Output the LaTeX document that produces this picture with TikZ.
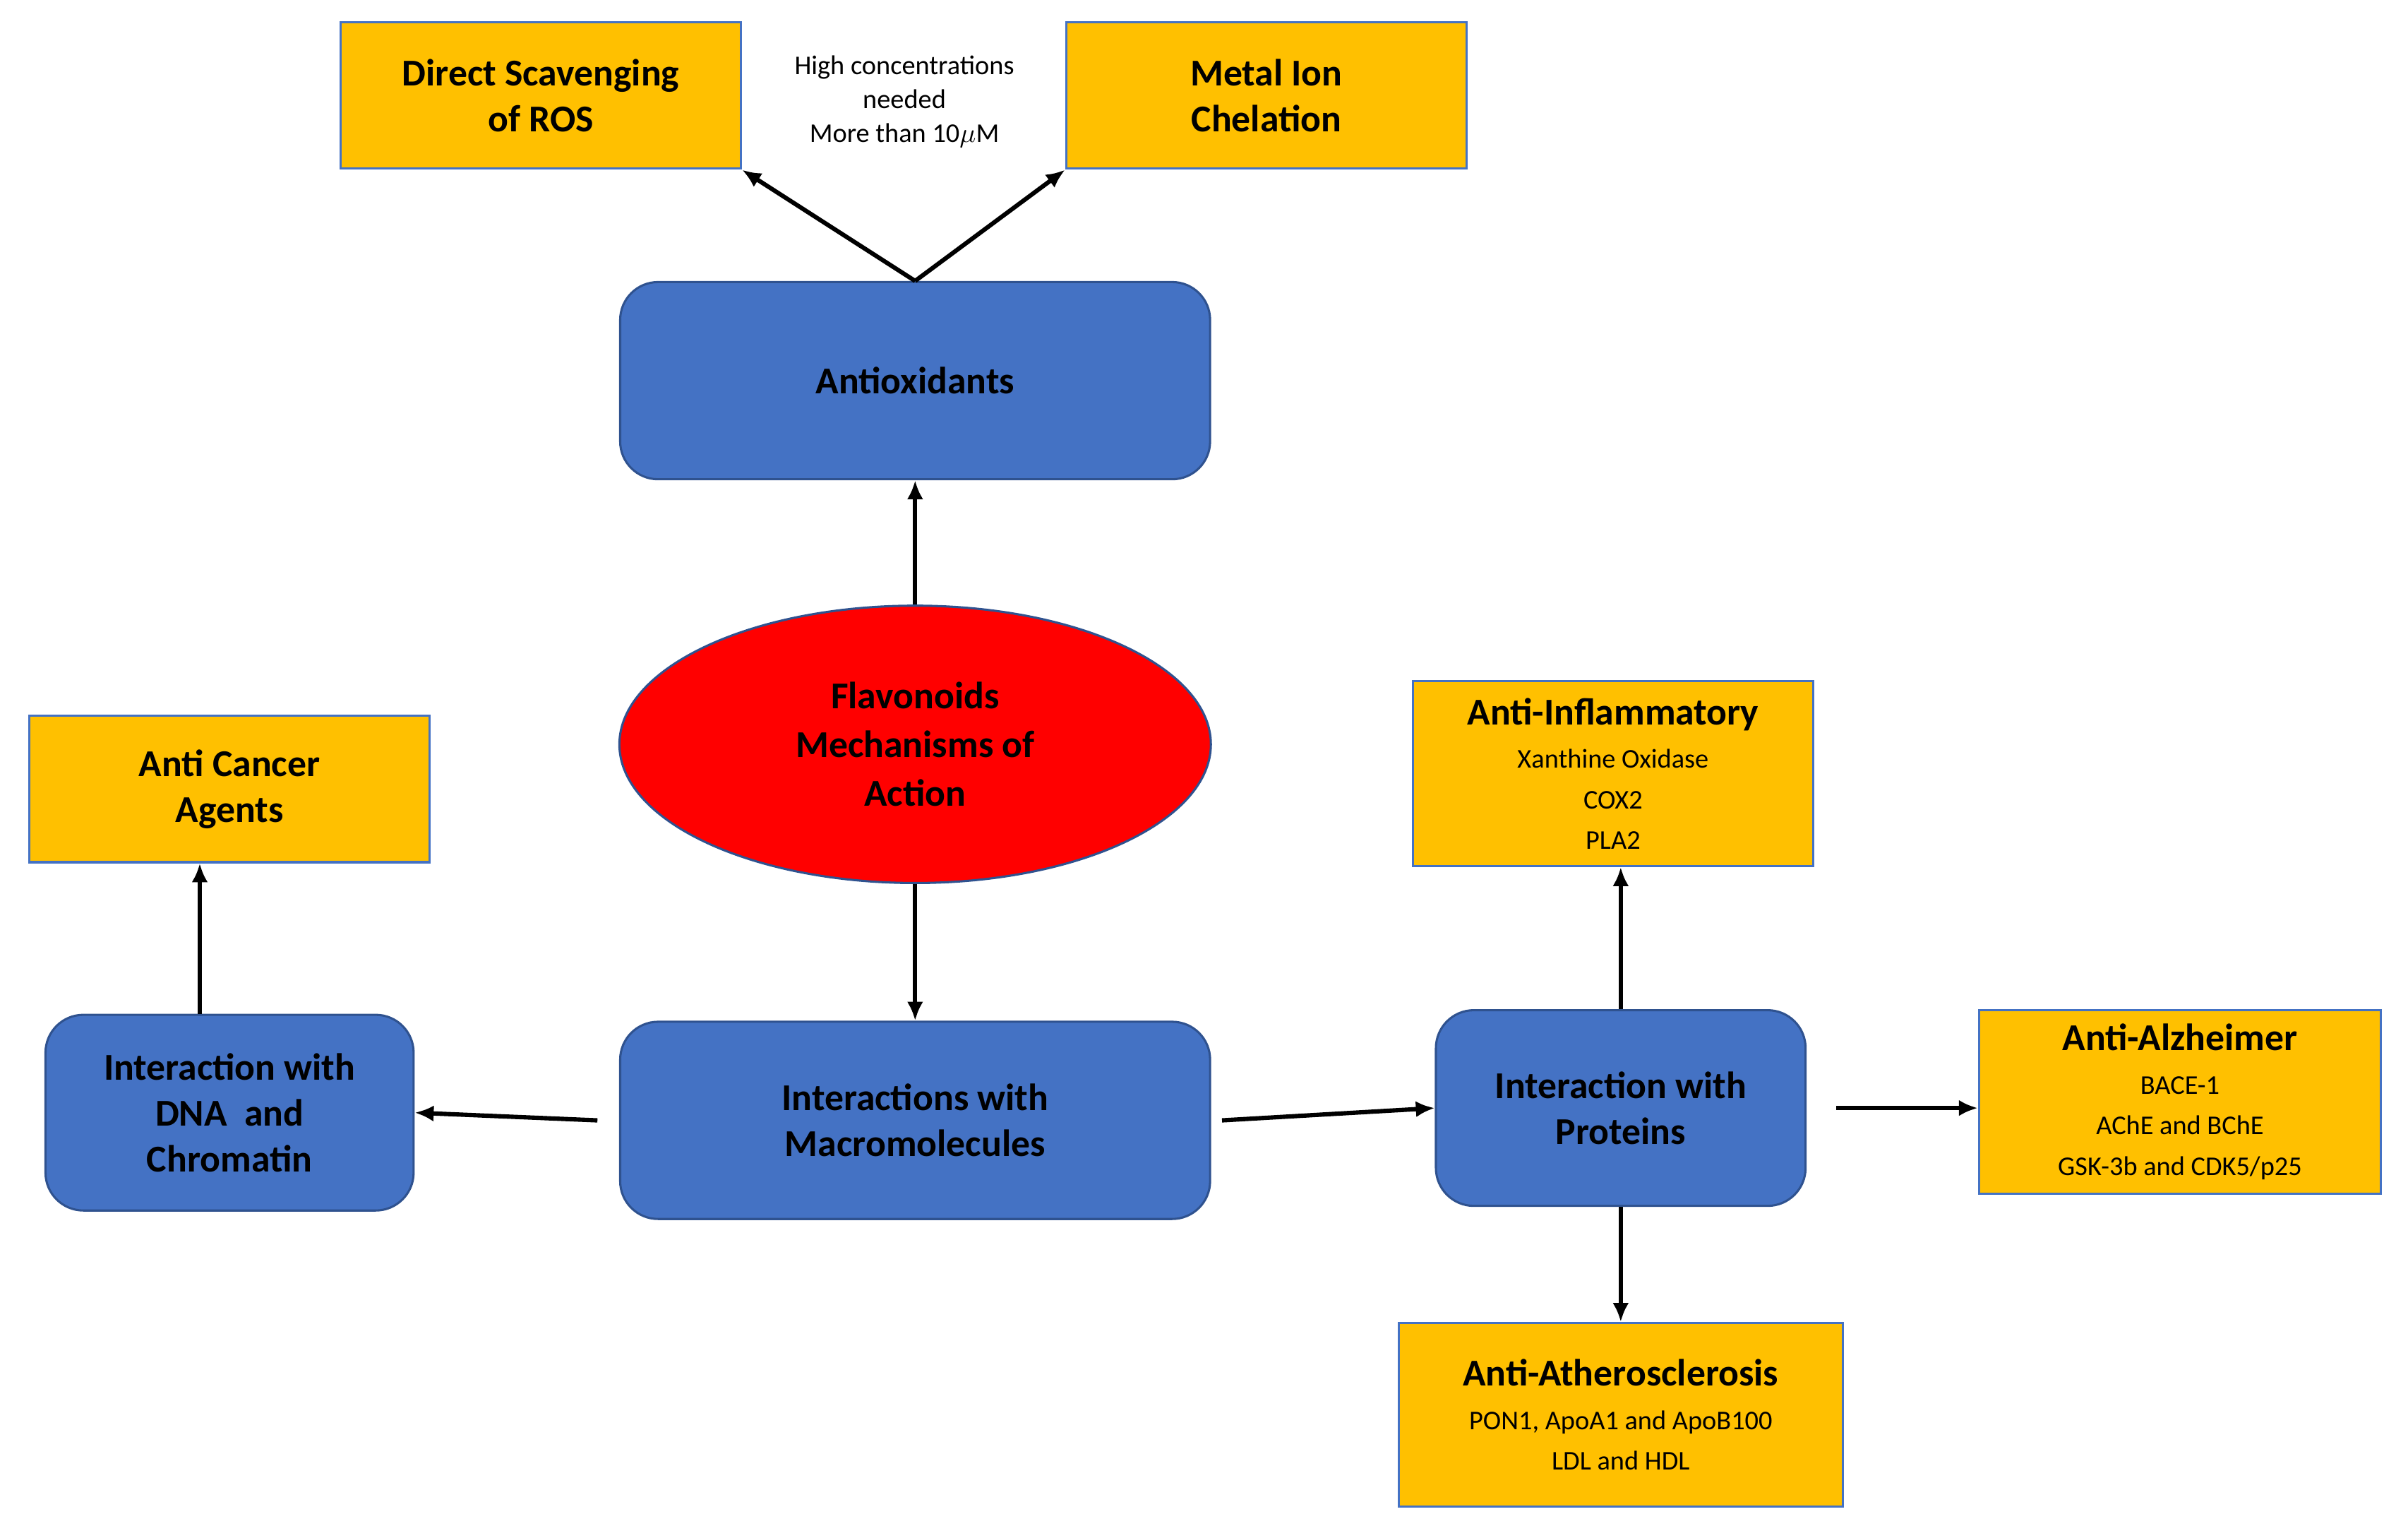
\documentclass[tikz,border=0pt]{standalone}
\usepackage{fontspec}
\setmainfont{Carlito}
\usetikzlibrary{arrows.meta,shapes.geometric}
\definecolor{boxblue}{HTML}{4472C4}
\definecolor{edgeblue}{HTML}{2F528F}
\definecolor{boxorange}{HTML}{FFC000}
\newcommand\subtxt[1]{{\fontsize{10}{12.5}\selectfont\mdseries #1}}
\tikzset{
  mech/.style={rectangle, rounded corners=14pt, fill=boxblue, draw=edgeblue, line width=0.8pt,
    align=center, font=\fontsize{14}{17}\selectfont\bfseries, inner sep=2pt},
  effect/.style={rectangle, fill=boxorange, draw=boxblue, line width=0.8pt,
    align=center, font=\fontsize{14}{17}\selectfont\bfseries, inner sep=2pt},
  flow/.style={line width=1.6pt, -{Latex[length=7pt,width=6pt]}}
}
\begin{document}
\begin{tikzpicture}[x=0.02cm, y=-0.02cm]
  \useasboundingbox (0,0) rectangle (1563,998);
  %Centre
  \node[ellipse, fill=red, draw=edgeblue, line width=0.8pt, minimum width=7.68cm, minimum height=3.6cm,
    align=center, font=\fontsize{14}{18}\selectfont\bfseries] (flav) at (594,483) {Flavonoids\\Mechanisms of\\Action};
  %Mechanisms
  \node[mech, minimum width=7.66cm, minimum height=2.56cm] (antiox) at (594,247) {Antioxidants};
  \node[mech, minimum width=7.66cm, minimum height=2.56cm] (macro) at (594,727) {Interactions with\\Macromolecules};
  \node[mech, minimum width=4.78cm, minimum height=2.54cm] (dna) at (149,722) {Interaction with\\DNA\ \ and\\Chromatin};
  \node[mech, minimum width=4.8cm, minimum height=2.54cm] (prot) at (1052,719) {Interaction with\\Proteins};
  %Effects
  \node[effect, minimum width=5.2cm, minimum height=1.9cm] (ros) at (351,62) {Direct Scavenging\\of ROS};
  \node[effect, minimum width=5.2cm, minimum height=1.9cm] (metal) at (822,62) {Metal Ion\\Chelation};
  \node[align=center, font=\fontsize{10}{12.5}\selectfont] (conc) at (587,66) {High concentrations\\needed\\More than 10$\mu$M};
  \node[effect, minimum width=5.2cm, minimum height=1.9cm] (cancer) at (149,512) {Anti Cancer\\Agents};
  \node[effect, minimum width=5.2cm, minimum height=2.4cm] (inflam) at (1047,502)
    {Anti-Inflammatory\\[-1pt]\subtxt{Xanthine Oxidase}\\[-2pt]\subtxt{COX2}\\[-2pt]\subtxt{PLA2}};
  \node[effect, minimum width=5.22cm, minimum height=2.38cm] (alz) at (1415,715)
    {Anti-Alzheimer\\[-1pt]\subtxt{BACE-1}\\[-2pt]\subtxt{AChE and BChE}\\[-2pt]\subtxt{GSK-3b and CDK5/p25}};
  \node[effect, minimum width=5.76cm, minimum height=2.38cm] (ather) at (1052,918)
    {Anti-Atherosclerosis\\[-1pt]\subtxt{PON1, ApoA1 and ApoB100}\\[-2pt]\subtxt{LDL and HDL}};
  %Arrows
  \draw[flow] (antiox.north) -- (ros.south east);
  \draw[flow] (antiox.north) -- (metal.south west);
  \draw[flow] (flav.north) -- (antiox.south);
  \draw[flow] (flav.south) -- (macro.north);
  \draw[flow] ([xshift=-8pt]macro.west) -- (dna.east);
  \draw[flow] ([xshift=4pt]macro.east) -- (prot.west);
  \draw[flow] ([xshift=-11pt]dna.north) -- ([xshift=-11pt]cancer.south);
  \draw[flow] (prot.north) -- (prot.north |- inflam.south);
  \draw[flow] ([xshift=11pt]prot.east) -- (alz.west |- prot.east);
  \draw[flow] (prot.south) -- (ather.north);
\end{tikzpicture}
\end{document}
